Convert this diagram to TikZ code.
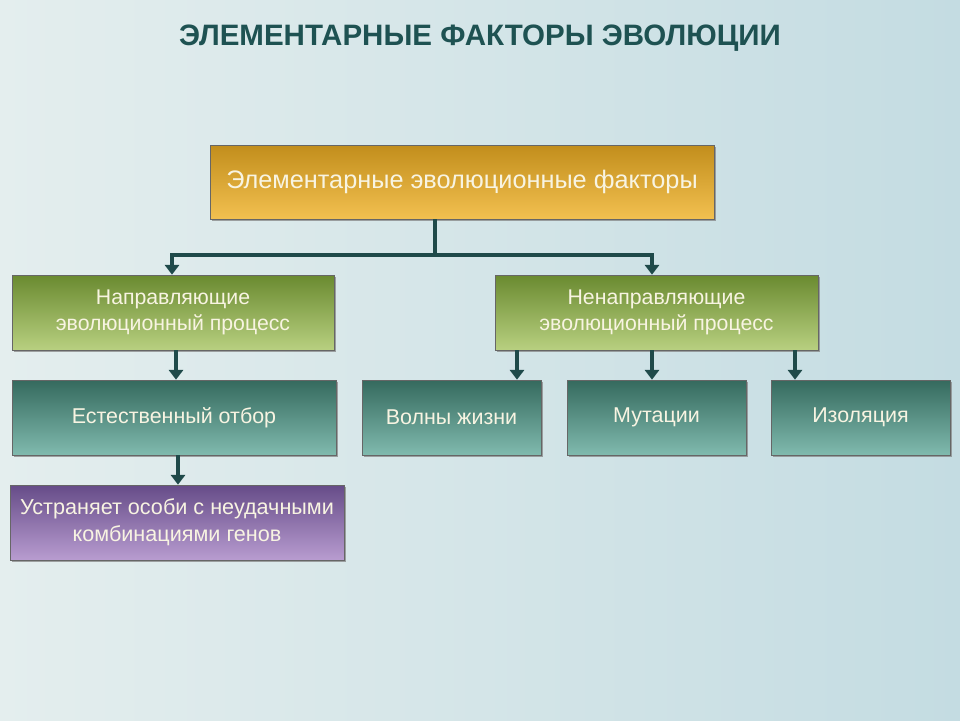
\documentclass[tikz,border=0pt]{standalone}
\usepackage{fontspec}
\setmainfont{Liberation Sans}
\usetikzlibrary{arrows.meta,shadows}

\definecolor{bgleft}{HTML}{E4EEEE}
\definecolor{bgright}{HTML}{C4DCE2}
\definecolor{titlecol}{HTML}{1E5252}
\definecolor{linecol}{HTML}{1F4A4A}
\definecolor{textcol}{HTML}{F8F4E2}
\definecolor{goldtop}{HTML}{C28E1C}
\definecolor{goldbot}{HTML}{F2C050}
\definecolor{greentop}{HTML}{6A8A30}
\definecolor{greenbot}{HTML}{B8D080}
\definecolor{tealtop}{HTML}{356A5E}
\definecolor{tealbot}{HTML}{80BAAE}
\definecolor{purptop}{HTML}{664C88}
\definecolor{purpbot}{HTML}{B89CD0}

\tikzset{
  box/.style={rectangle, align=center, text=textcol, font=\fontsize{12.1}{15}\selectfont,
    minimum height=1.5cm, draw=black!60, line width=0.4pt,
    drop shadow={shadow xshift=1.2pt, shadow yshift=-1.2pt, opacity=0.7}},
  goldbox/.style={box, top color=goldtop, bottom color=goldbot, font=\fontsize{14.4}{18}\selectfont},
  greenbox/.style={box, top color=greentop, bottom color=greenbot},
  tealbox/.style={box, top color=tealtop, bottom color=tealbot, font=\fontsize{12.2}{15}\selectfont},
  purpbox/.style={box, top color=purptop, bottom color=purpbot, font=\fontsize{12.3}{15.5}\selectfont},
  conn/.style={draw=linecol, line width=1.8pt},
  arr/.style={conn, -{Triangle[width=8pt,length=5.5pt]}}
}

\begin{document}
\begin{tikzpicture}[x=0.02cm, y=-0.02cm]
    % Background
    \shade[left color=bgleft, right color=bgright] (0,0) rectangle (960,720);
    \useasboundingbox (0,0) rectangle (960,720);

    % Title
    \node[text=titlecol, font=\fontsize{16.8}{20}\selectfont\bfseries] (title) at (480,38) {ЭЛЕМЕНТАРНЫЕ ФАКТОРЫ ЭВОЛЮЦИИ};

    % Boxes
    \node[goldbox, minimum width=10.08cm, minimum height=1.48cm] (top) at (462,182) {Элементарные эволюционные факторы};
    \node[greenbox, minimum width=6.44cm] (naprav) at (173,312.5) {Направляющие\\эволюционный процесс};
    \node[greenbox, minimum width=6.46cm] (nenaprav) at (656.5,312.5) {Ненаправляющие\\эволюционный процесс};
    \node[tealbox, minimum width=6.48cm] (otbor) at (174,417.5) {Естественный отбор};
    \node[tealbox, minimum width=3.58cm] (volny) at (451.5,417.5) {Волны жизни};
    \node[tealbox, minimum width=3.58cm] (mutac) at (656.5,417.5) {Мутации};
    \node[tealbox, minimum width=3.58cm] (izol) at (860.5,417.5) {Изоляция};
    \node[purpbox, minimum width=6.68cm] (ustr) at (177,522.5) {Устраняет особи с неудачными\\комбинациями генов};

    % Connectors
    \coordinate (split) at (435,255);
    \coordinate (xa) at (517,0);
    \coordinate (xb) at (652,0);
    \coordinate (xc) at (795,0);
    \coordinate (xd) at (176,0);
    \coordinate (xe) at (178,0);
    \coordinate (xf) at (172,0);
    \draw[conn] (top.south -| split) -- (split);
    \draw[arr] (split) -| (naprav.north -| xf);
    \draw[arr] (split) -| (nenaprav.north -| xb);
    \draw[arr] (naprav.south -| xd) -- (otbor.north -| xd);
    \draw[arr] (nenaprav.south -| xa) -- (volny.north -| xa);
    \draw[arr] (nenaprav.south -| xb) -- (mutac.north -| xb);
    \draw[arr] (nenaprav.south -| xc) -- (izol.north -| xc);
    \draw[arr] (otbor.south -| xe) -- (ustr.north -| xe);

\end{tikzpicture}
\end{document}
